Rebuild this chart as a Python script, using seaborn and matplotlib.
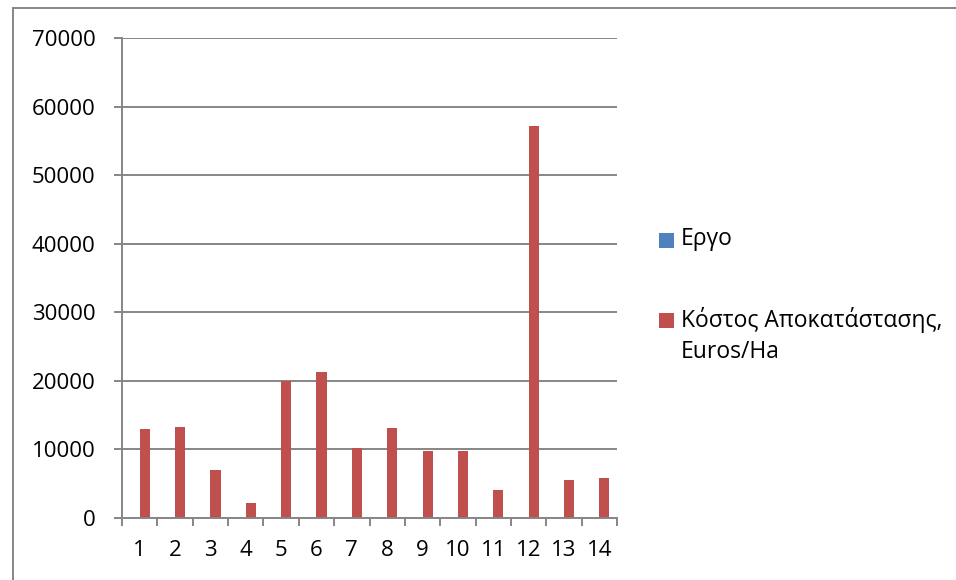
import matplotlib
matplotlib.use("Agg")
import matplotlib.pyplot as plt
import seaborn as sns
import pandas as pd
from matplotlib.lines import Line2D
from matplotlib.patches import Rectangle

# ---- data ----
categories = [str(i) for i in range(1, 15)]
ergo_values = list(range(1, 15))
cost_values = [13000, 13200, 7000, 2250, 20000, 21300, 10200, 13150,
               9800, 9700, 4100, 57100, 5550, 5900]
series_names = ["Εργο", "Κόστος Αποκατάστασης, Euros/Ha"]
y_ticks = [0, 10000, 20000, 30000, 40000, 50000, 60000, 70000]

colors = ["#4F81BD", "#C0504D"]
gray = "#868686"

sns.set_theme(style="white")
plt.rcParams["font.family"] = ["Open Sans", "DejaVu Sans"]

df = pd.DataFrame({
    "cat": categories * 2,
    "value": ergo_values + cost_values,
    "series": [series_names[0]] * 14 + [series_names[1]] * 14,
})

W, H = 956, 580
fig = plt.figure(figsize=(W / 100, H / 100), dpi=100)
ax = fig.add_axes([122 / W, 1 - 518 / H, (617 - 122) / W, (518 - 38) / H])

sns.barplot(data=df, x="cat", y="value", hue="series", order=categories,
            hue_order=series_names, palette=colors, width=0.572,
            saturation=1, ax=ax, legend=False, errorbar=None)

for p in ax.patches:
    p.set_linewidth(0)

ax.set_xlim(-0.5, 13.5)
ax.set_ylim(0, 70000)
ax.set_yticks(y_ticks)
ax.set_yticklabels([str(v) for v in y_ticks])
ax.set_xlabel("")
ax.set_ylabel("")

ax.yaxis.grid(True, color=gray, linewidth=1.4)
ax.set_axisbelow(True)
for s in ["top", "right"]:
    ax.spines[s].set_visible(False)
for s in ["left", "bottom"]:
    ax.spines[s].set_color(gray)
    ax.spines[s].set_linewidth(1.4)

fs = 16
ax.tick_params(axis="y", which="major", length=6, width=1.4, color=gray,
               direction="out", pad=13, labelsize=fs, left=True)
ax.tick_params(axis="x", which="major", length=0, pad=16, labelsize=fs)
ax.set_xticks([i + 0.5 for i in range(-1, 14)], minor=True)
ax.tick_params(axis="x", which="minor", length=6, width=1.4, color=gray,
               direction="out", bottom=True)
for lab in ax.get_xticklabels() + ax.get_yticklabels():
    lab.set_color("black")

# outer chart border (top and left visible)
fig.add_artist(Line2D([12.5 / W, 12.5 / W], [0, 1 - 8 / H], transform=fig.transFigure,
                      color=gray, linewidth=1.4))
fig.add_artist(Line2D([12.5 / W, 1], [1 - 8 / H, 1 - 8 / H], transform=fig.transFigure,
                      color=gray, linewidth=1.4))

# legend (Excel style: square swatch aligned with first line)
legend_items = [(series_names[0], 240), ("Κόστος Αποκατάστασης,\nEuros/Ha", 320)]
for (label, ypix), col in zip(legend_items, colors):
    fig.add_artist(Rectangle((659 / W, 1 - (ypix + 8) / H), 15 / W, 15 / H,
                             transform=fig.transFigure, facecolor=col,
                             edgecolor="none"))
    fig.text(681 / W, 1 - (ypix - 13) / H, label, fontsize=16.5, va="top",
             ha="left", color="black", linespacing=1.4)

fig.savefig("out.png", dpi=100)
